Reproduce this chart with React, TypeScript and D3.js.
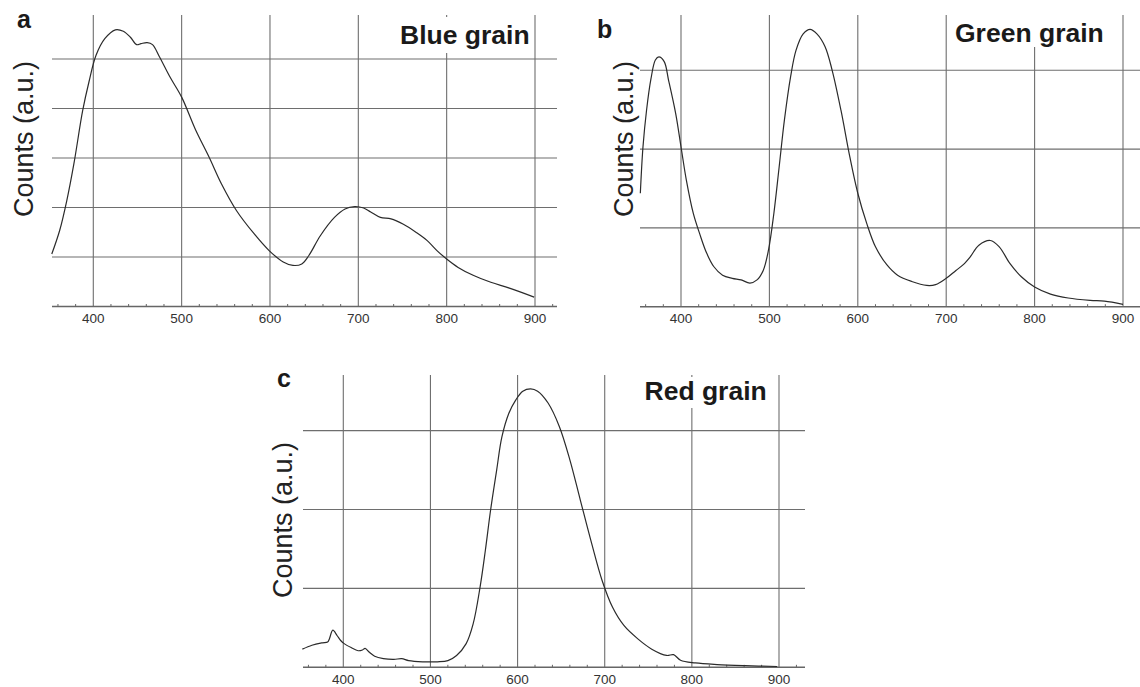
import React from "react";
import * as d3 from "d3";

// wavelength tick labels (nm)
const tickLabels = [400, 500, 600, 700, 800, 900];

// a: blue grain spectrum, counts in grid units
const blueWl = [353, 362, 370, 378, 388, 395, 403, 413, 425, 434, 442, 449, 454, 461, 467, 475, 487, 500, 516, 531, 545, 562, 582, 599, 615, 626, 636, 644, 657, 673, 685, 696, 706, 714, 725, 737, 751, 766, 778, 789, 800, 813, 830, 850, 871, 899];
const blueCounts = [1.06, 1.54, 2.14, 2.88, 3.96, 4.53, 5.07, 5.41, 5.59, 5.56, 5.44, 5.29, 5.31, 5.33, 5.29, 5.04, 4.63, 4.23, 3.56, 3.02, 2.48, 1.94, 1.47, 1.13, 0.9, 0.83, 0.86, 1.03, 1.43, 1.8, 1.97, 2.02, 1.99, 1.91, 1.8, 1.77, 1.66, 1.49, 1.33, 1.13, 0.96, 0.79, 0.63, 0.49, 0.37, 0.19];

// b: green grain spectrum
const greenWl = [354, 357, 361, 366, 371, 375, 381, 386, 394, 400, 406, 414, 421, 429, 437, 447, 458, 468, 478, 486, 493, 499, 505, 511, 517, 524, 530, 538, 546, 554, 563, 571, 581, 591, 600, 610, 620, 633, 645, 661, 678, 688, 700, 711, 719, 727, 737, 750, 760, 772, 785, 800, 818, 838, 863, 879, 900];
const greenCounts = [1.44, 2.03, 2.49, 2.89, 3.13, 3.17, 3.11, 2.87, 2.45, 2.03, 1.61, 1.18, 0.93, 0.68, 0.51, 0.4, 0.36, 0.34, 0.3, 0.34, 0.46, 0.72, 1.18, 1.77, 2.37, 2.92, 3.25, 3.46, 3.52, 3.46, 3.3, 3.0, 2.49, 1.9, 1.44, 1.06, 0.76, 0.53, 0.4, 0.32, 0.27, 0.28, 0.36, 0.46, 0.53, 0.63, 0.78, 0.84, 0.76, 0.55, 0.38, 0.25, 0.16, 0.11, 0.08, 0.07, 0.03];

// c: red grain spectrum
const redWl = [353, 364, 376, 382, 384, 388, 393, 397, 401, 409, 417, 422, 425, 430, 436, 446, 458, 467, 475, 491, 508, 520, 530, 541, 549, 557, 563, 569, 576, 582, 590, 598, 606, 615, 623, 635, 648, 660, 672, 685, 697, 709, 722, 738, 754, 771, 779, 787, 804, 829, 861, 898];
const redCounts = [0.23, 0.28, 0.31, 0.32, 0.36, 0.47, 0.4, 0.34, 0.3, 0.25, 0.21, 0.22, 0.24, 0.19, 0.14, 0.11, 0.1, 0.11, 0.085, 0.07, 0.07, 0.085, 0.15, 0.3, 0.55, 1.02, 1.48, 1.99, 2.5, 2.92, 3.22, 3.39, 3.5, 3.53, 3.5, 3.35, 3.05, 2.63, 2.12, 1.57, 1.1, 0.76, 0.53, 0.36, 0.23, 0.15, 0.16, 0.09, 0.055, 0.034, 0.02, 0.01];

const FONT = "'Liberation Sans', Arial, Helvetica, sans-serif";
const GRID = "#6e6e6e";

const panels = [
  {
    letter: "a", letterX: 17, letterY: 28,
    title: "Blue grain", titleX: 400, titleY: 44, box: [396, 17, 135, 36],
    xr: [93.3, 535], yr: [306.5, 59], levels: 5,
    left: 52, right: 557, top: 15, labelX: 33, labelY: 139,
    wl: blueWl, counts: blueCounts,
  },
  {
    letter: "b", letterX: 597, letterY: 38,
    title: "Green grain", titleX: 955, titleY: 41.5, box: [951, 15, 155, 32],
    xr: [681, 1123], yr: [306.7, 70.3], levels: 3,
    left: 640, right: 1140, top: 15, labelX: 633, labelY: 139,
    wl: greenWl, counts: greenCounts,
  },
  {
    letter: "c", letterX: 277, letterY: 387,
    title: "Red grain", titleX: 644.5, titleY: 400, box: [640, 377, 127, 31],
    xr: [343.3, 779], yr: [667.3, 430.6], levels: 3,
    left: 303, right: 805, top: 375, labelX: 292, labelY: 520,
    wl: redWl, counts: redCounts,
  },
];

const Panel = ({ p }: { p: any }) => {
  const x = d3.scaleLinear().domain([400, 900]).range(p.xr);
  const y = d3.scaleLinear().domain([0, p.levels]).range(p.yr);
  const base = y(0);

  const line = d3
    .line<number>()
    .x((d, i) => x(p.wl[i]))
    .y((d) => y(d))
    .curve(d3.curveCatmullRom.alpha(0.5));

  const minor = d3
    .range(360, 1000, 20)
    .filter((v) => x(v) <= p.right && x(v) >= p.left && v % 100 !== 0);
  const levels = d3.range(1, p.levels + 1);

  return (
    <g>
      {levels.map((l) => (
        <line key={"h" + l} x1={p.left} x2={p.right} y1={y(l)} y2={y(l)} stroke={GRID} strokeWidth={1.1} />
      ))}
      {tickLabels.map((t) => (
        <line key={"v" + t} x1={x(t)} x2={x(t)} y1={p.top} y2={base} stroke={GRID} strokeWidth={1.1} />
      ))}
      <rect x={p.box[0]} y={p.box[1]} width={p.box[2]} height={p.box[3]} fill="#fff" />
      <line x1={p.left} x2={p.right} y1={base} y2={base} stroke="#666" strokeWidth={1.4} />
      {minor.map((v) => (
        <line key={"m" + v} x1={x(v)} x2={x(v)} y1={base - 2.5} y2={base} stroke="#666" strokeWidth={1} />
      ))}
      {tickLabels.map((t) => (
        <text key={"t" + t} x={x(t)} y={base + 16.5} textAnchor="middle" fontSize={13.5} fill="#333" fontFamily={FONT}>
          {t}
        </text>
      ))}
      <path d={line(p.counts) || ""} fill="none" stroke="#2b2b2b" strokeWidth={1.2} />
      <text x={p.titleX} y={p.titleY} fontSize={26.5} fontWeight="bold" fill="#1a1a1a" fontFamily={FONT}>
        {p.title}
      </text>
      <text x={p.letterX} y={p.letterY} fontSize={25} fontWeight="bold" fill="#1a1a1a" fontFamily={FONT}>
        {p.letter}
      </text>
      <text
        transform={`translate(${p.labelX},${p.labelY}) rotate(-90)`}
        textAnchor="middle"
        fontSize={27}
        fill="#222"
        fontFamily={FONT}
      >
        Counts (a.u.)
      </text>
    </g>
  );
};

const App = () => {
  return (
    <svg
      width={1140}
      height={687}
      style={{ position: "absolute", left: 0, top: 0, background: "#fff" }}
    >
      <rect width={1140} height={687} fill="#fff" />
      {panels.map((p) => (
        <Panel key={p.letter} p={p} />
      ))}
    </svg>
  );
};

export default App;
